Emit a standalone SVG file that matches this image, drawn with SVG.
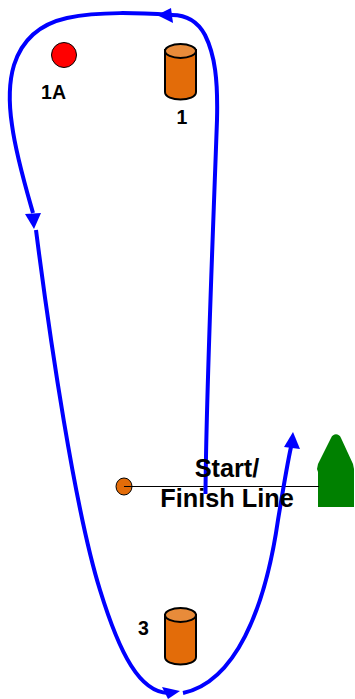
<svg xmlns="http://www.w3.org/2000/svg" width="355" height="699" viewBox="0 0 355 699">
<style>
.c{fill:none;stroke:#0000ff;stroke-width:4}
.h{fill:#0000ff;stroke:none}
.t{font-family:"Liberation Sans",Arial,sans-serif;font-weight:bold;fill:#000;font-size:19.500px}
.s{font-size:25.300px}
.body{fill:#e36c09;stroke:#000;stroke-width:2}
.top{fill:#e88b3a;stroke:#000;stroke-width:2}
</style>
<g id="mark-1A"><circle cx="64" cy="55" r="12.500" fill="#ff0000" stroke="#000" stroke-width="1"/><text class="t" x="53.500" y="99" text-anchor="middle">1A</text></g>
<g id="mark-1"><path class="body" d="M165 50V92C165 102 196 102 196 92V50Z"/><ellipse class="top" cx="180.500" cy="51" rx="15.500" ry="7"/><text class="t" x="182" y="124" text-anchor="middle">1</text></g>
<g id="mark-3"><path class="body" d="M165 615V657C165 667 196 667 196 657V615Z"/><ellipse class="top" cx="180.500" cy="615" rx="15.500" ry="7"/><text class="t" x="143.500" y="635" text-anchor="middle">3</text></g>
<g id="start-pin"><ellipse cx="124" cy="486.500" rx="8" ry="8.500" fill="#e36c09" stroke="#000" stroke-width="1"/></g>
<g id="start-boat"><path fill="#008000" d="M318 507V472L317 469L318 464L331 438C333 433 339 433 341 438L353 464L354 469V507Z"/></g>
<g id="connectors">
<line x1="124" y1="486.500" x2="319" y2="486.500" stroke="#000" stroke-width="1"/>
<path class="c" d="M205.500 494C206 400 212 260 217 120C218 80 215 55 205 35C198 22 188 15 172 15"/>
<polygon class="h" points="157,15 171,8 173,23"/>
<path class="c" d="M172 15C140 13 100 11 67 18C40 24 22 40 14 65C8 85 9 105 12 125C16 155 25 185 33 213"/>
<polygon class="h" points="34,229 25,214 41,213"/>
<path class="c" d="M36 230C50 340 75 510 100 590C120 655 140 692 168 693"/>
<polygon class="h" points="180,691 162,687 168,699"/>
<path class="c" d="M183 693C235 682 265 610 278 520C283 490 287 465 291 447"/>
<polygon class="h" points="293,432 284,447 300,449"/>
</g>
<g id="label-start"><text class="t s" x="227" y="477" text-anchor="middle">Start/</text><text class="t s" x="227" y="507" text-anchor="middle">Finish Line</text></g>
</svg>
